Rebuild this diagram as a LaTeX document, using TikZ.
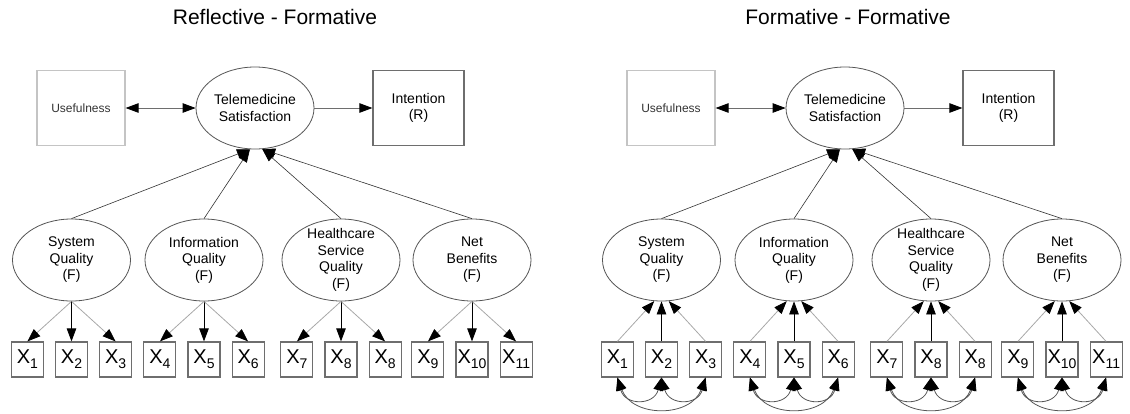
\documentclass[tikz,border=0pt]{standalone}
\usepackage{fontspec}
\setmainfont{Liberation Sans}
\usetikzlibrary{shapes.geometric, arrows.meta, positioning}
\definecolor{EdgeGray}{HTML}{555555}
\definecolor{SoftGray}{HTML}{A8A8A8}
\definecolor{PaleGray}{HTML}{C4C4C4}
\definecolor{BoxGray}{HTML}{6E6E6E}
\definecolor{InkGray}{HTML}{333333}
\newcommand{\xsub}[1]{X\raisebox{-5pt}{\fontsize{14}{14}\selectfont #1}}

\begin{document}
\begin{tikzpicture}[
  x=1pt, y=-1pt,
  node distance=40pt and 11pt,
  >={Triangle[length=13pt,width=9.5pt,color=black]},
  latent/.style={ellipse, draw=EdgeGray, line width=0.8pt, fill=white, minimum width=118pt,
                 minimum height=82pt, inner sep=-8pt, align=center, font=\fontsize{14}{16.5}\selectfont},
  obs/.style={rectangle, draw=BoxGray, line width=1.2pt, minimum height=75pt, align=center,
              font=\fontsize{14}{16.5}\selectfont},
  ind/.style={rectangle, draw=BoxGray, line width=1.1pt, fill=white, minimum width=32pt,
              minimum height=35pt, inner sep=0pt, font=\fontsize{20}{20}\selectfont},
  ttl/.style={anchor=base, font=\fontsize{21}{24}\selectfont},
  arr/.style={->, line width=0.8pt},
  path/.style={->, line width=0.6pt, draw=InkGray},
  cov/.style={<->, line width=0.8pt, draw=EdgeGray}
]
\useasboundingbox (0,0) rectangle (1130,413);

\node[ttl] (rtitle) at (275,24) {Reflective - Formative};
\node[latent] (rtele) at (255,108) {Telemedicine\\Satisfaction};
\node[obs, draw=PaleGray, minimum width=88pt, left=70pt of rtele, font=\fontsize{12}{14}\selectfont, text=InkGray] (ruse) {Usefulness};
\node[obs, minimum width=91pt, right=58pt of rtele] (rint) {Intention\\(R)};
\node[latent] (rsq)  at (71.5,260) {System\\Quality\\(F)};
\node[latent] (riq)  at (204,260)  {Information\\Quality\\(F)};
\node[latent] (rhsq) at (341,260)  {Healthcare\\Service\\Quality\\(F)};
\node[latent] (rnb)  at (472,260)  {Net\\Benefits\\(F)};
\node[ind, below=of rsq]  (rx2) {\xsub{2}};
\node[ind, left=of rx2]   (rx1) {\xsub{1}};
\node[ind, right=of rx2]  (rx3) {\xsub{3}};
\node[ind, below=of riq]  (rx5) {\xsub{5}};
\node[ind, left=of rx5]   (rx4) {\xsub{4}};
\node[ind, right=of rx5]  (rx6) {\xsub{6}};
\node[ind, below=of rhsq] (rx8) {\xsub{8}};
\node[ind, left=of rx8]   (rx7) {\xsub{7}};
\node[ind, right=of rx8]  (rx9) {\xsub{8}};
\node[ind, below=of rnb]  (rx11) {\xsub{10}};
\node[ind, left=of rx11]  (rx10) {\xsub{9}};
\node[ind, right=of rx11] (rx12) {\xsub{11}};

\draw[arr, draw=BoxGray, <->] (ruse) -- (rtele);
\draw[arr, draw=BoxGray] (rtele) -- (rint);
\draw[path] (rsq.north) -- (rtele.263);
\draw[path] (riq.north) -- (rtele.263);
\draw[path] (rhsq.north) -- (rtele.280);
\draw[path] (rnb.north) -- (rtele.280);
\draw[arr, draw=SoftGray] (rsq.south) -- (rx1.north);  \draw[arr] (rsq.south) -- (rx2);  \draw[arr, draw=SoftGray] (rsq.south) -- (rx3.north);
\draw[arr, draw=SoftGray] (riq.south) -- (rx4.north);  \draw[arr] (riq.south) -- (rx5);  \draw[arr, draw=SoftGray] (riq.south) -- (rx6.north);
\draw[arr, draw=SoftGray] (rhsq.south) -- (rx7.north); \draw[arr] (rhsq.south) -- (rx8); \draw[arr, draw=SoftGray] (rhsq.south) -- (rx9.north);
\draw[arr, draw=SoftGray] (rnb.south) -- (rx10.north); \draw[arr] (rnb.south) -- (rx11); \draw[arr, draw=SoftGray] (rnb.south) -- (rx12.north);

\node[ttl] (ftitle) at (848,24) {Formative - Formative};
\node[latent] (ftele) at (845,108) {Telemedicine\\Satisfaction};
\node[obs, draw=PaleGray, minimum width=88pt, left=70pt of ftele, font=\fontsize{12}{14}\selectfont, text=InkGray] (fuse) {Usefulness};
\node[obs, minimum width=91pt, right=58pt of ftele] (fint) {Intention\\(R)};
\node[latent] (fsq)  at (661.5,260) {System\\Quality\\(F)};
\node[latent] (fiq)  at (794,260)   {Information\\Quality\\(F)};
\node[latent] (fhsq) at (931,260)   {Healthcare\\Service\\Quality\\(F)};
\node[latent] (fnb)  at (1062,260)  {Net\\Benefits\\(F)};
\node[ind, below=of fsq]  (fx2) {\xsub{2}};
\node[ind, left=of fx2]   (fx1) {\xsub{1}};
\node[ind, right=of fx2]  (fx3) {\xsub{3}};
\node[ind, below=of fiq]  (fx5) {\xsub{5}};
\node[ind, left=of fx5]   (fx4) {\xsub{4}};
\node[ind, right=of fx5]  (fx6) {\xsub{6}};
\node[ind, below=of fhsq] (fx8) {\xsub{8}};
\node[ind, left=of fx8]   (fx7) {\xsub{7}};
\node[ind, right=of fx8]  (fx9) {\xsub{8}};
\node[ind, below=of fnb]  (fx11) {\xsub{10}};
\node[ind, left=of fx11]  (fx10) {\xsub{9}};
\node[ind, right=of fx11] (fx12) {\xsub{11}};

\draw[arr, draw=BoxGray, <->] (fuse) -- (ftele);
\draw[arr, draw=BoxGray] (ftele) -- (fint);
\draw[path] (fsq.north) -- (ftele.263);
\draw[path] (fiq.north) -- (ftele.263);
\draw[path] (fhsq.north) -- (ftele.280);
\draw[path] (fnb.north) -- (ftele.280);
\draw[arr, draw=SoftGray] (fx1.north) -- (fsq.260);   \draw[arr] (fx2.north) -- (fsq.south);  \draw[arr, draw=SoftGray] (fx3.north) -- (fsq.280);
\draw[arr, draw=SoftGray] (fx4.north) -- (fiq.260);   \draw[arr] (fx5.north) -- (fiq.south);  \draw[arr, draw=SoftGray] (fx6.north) -- (fiq.280);
\draw[arr, draw=SoftGray] (fx7.north) -- (fhsq.260);  \draw[arr] (fx8.north) -- (fhsq.south); \draw[arr, draw=SoftGray] (fx9.north) -- (fhsq.280);
\draw[arr, draw=SoftGray] (fx10.north) -- (fnb.260);  \draw[arr] (fx11.north) -- (fnb.south); \draw[arr, draw=SoftGray] (fx12.north) -- (fnb.280);
\draw[cov] (fx1.south) to[out=-75, in=-105, looseness=1.7] (fx2.south);
\draw[cov] (fx2.south) to[out=-75, in=-105, looseness=1.7] (fx3.south);
\draw[cov] (fx1.south) to[out=-70, in=-110, looseness=1.25] (fx3.south);
\draw[cov] (fx4.south) to[out=-75, in=-105, looseness=1.7] (fx5.south);
\draw[cov] (fx5.south) to[out=-75, in=-105, looseness=1.7] (fx6.south);
\draw[cov] (fx4.south) to[out=-70, in=-110, looseness=1.25] (fx6.south);
\draw[cov] (fx7.south) to[out=-75, in=-105, looseness=1.7] (fx8.south);
\draw[cov] (fx8.south) to[out=-75, in=-105, looseness=1.7] (fx9.south);
\draw[cov] (fx7.south) to[out=-70, in=-110, looseness=1.25] (fx9.south);
\draw[cov] (fx10.south) to[out=-75, in=-105, looseness=1.7] (fx11.south);
\draw[cov] (fx11.south) to[out=-75, in=-105, looseness=1.7] (fx12.south);
\draw[cov] (fx10.south) to[out=-70, in=-110, looseness=1.25] (fx12.south);

\end{tikzpicture}
\end{document}
